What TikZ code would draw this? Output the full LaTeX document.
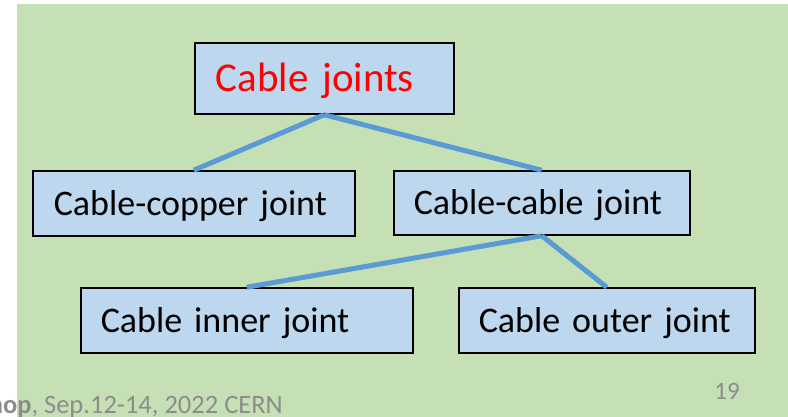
\documentclass[tikz,border=0pt]{standalone}
\usepackage{fontspec}
\setmainfont{Carlito}
\definecolor{bggreen}{HTML}{C5E0B4}
\definecolor{boxblue}{HTML}{BDD7EE}
\definecolor{linkblue}{HTML}{5B9BD5}
\definecolor{footgray}{HTML}{8C8C8C}
\tikzset{
  jbox/.style={draw=black, line width=1.5pt, fill=boxblue, rectangle, align=left,
    inner ysep=0pt, text depth=0pt},
  bigtext/.style={font=\fontsize{41}{45}\selectfont, text height=26.4pt},
  midtext/.style={font=\fontsize{36}{40}\selectfont, text height=23.2pt},
  link/.style={draw=linkblue, line width=5pt},
  foot/.style={text=footgray, inner sep=0pt}
}
\begin{document}
\begin{tikzpicture}[x=1pt,y=-1pt]
\useasboundingbox (0,0) rectangle (788,417);
\fill[bggreen] (17,4) rectangle (788,417);
% boxes: west x, center y, width, height, left pad
\node[jbox, bigtext, anchor=west, inner xsep=21pt, text width=217pt, minimum height=71pt, text=red] (top) at (194,78.5) {\mbox{Cable joints}};
\node[jbox, midtext, anchor=west, inner xsep=21pt, text width=280pt, minimum height=65pt] (copper) at (32,203.5) {\mbox{Cable-copper joint}};
\node[jbox, midtext, anchor=west, inner xsep=20pt, text width=256pt, minimum height=64pt] (cc) at (393,203) {\mbox{Cable-cable joint}};
\node[jbox, midtext, anchor=west, inner xsep=20pt, text width=292pt, minimum height=65pt] (inner) at (80,320.5) {\mbox{Cable inner joint}};
\node[jbox, midtext, anchor=west, inner xsep=20pt, text width=256pt, minimum height=65pt] (outer) at (458,320.5) {\mbox{Cable outer joint}};
% connectors
\draw[link] (top.south) -- (copper.north);
\draw[link] (top.south) -- (cc.north);
\draw[link] (cc.south) -- (inner.north);
\draw[link] (cc.south) -- (outer.north);
% footer
\node[foot, font=\fontsize{26.5}{30}\selectfont, anchor=base east] (footer) at (283,413) {\textbf{hop}, Sep.12-14, 2022 CERN};
\node[foot, font=\fontsize{25}{28}\selectfont, anchor=base east] (pagenum) at (740,399) {19};
\end{tikzpicture}
\end{document}
